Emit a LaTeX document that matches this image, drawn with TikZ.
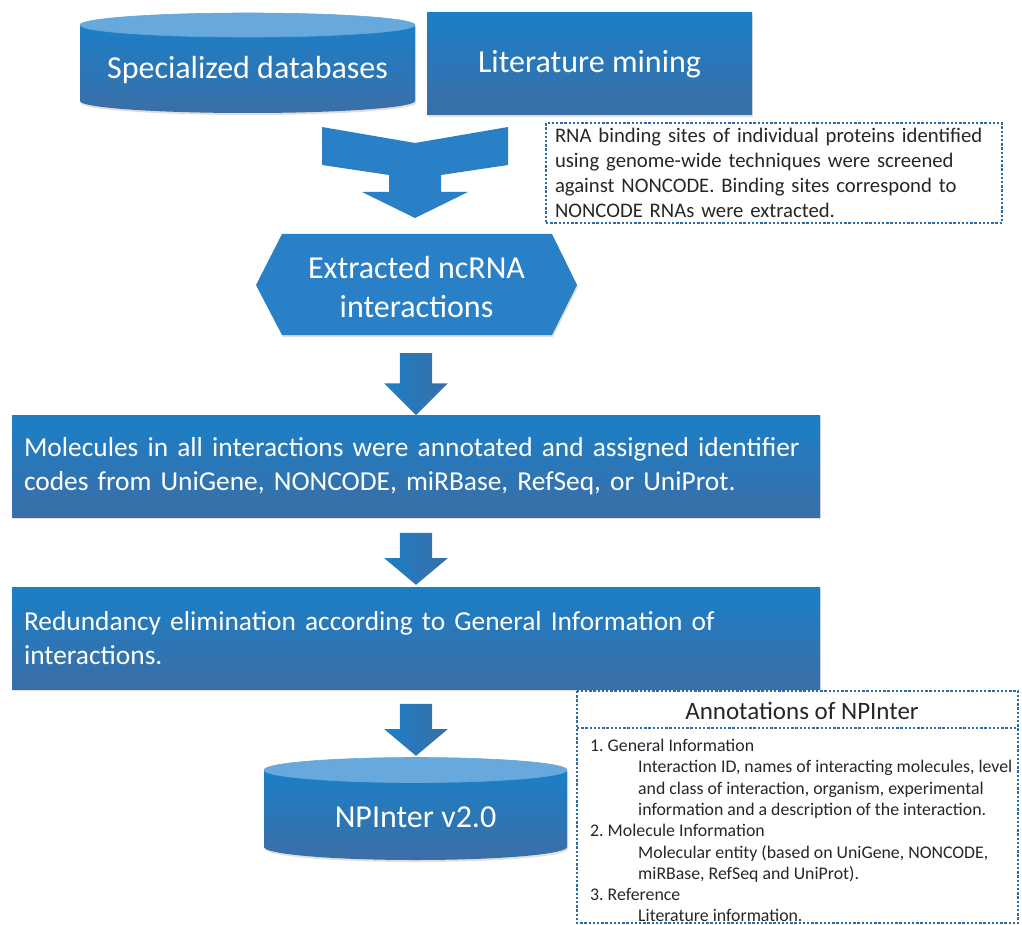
\documentclass[tikz,border=0pt]{standalone}
\usepackage{fontspec}
\setmainfont{Carlito}
\usetikzlibrary{shapes.arrows, shadows, calc}
\definecolor{bluSu}{HTML}{1B7FC7}
\definecolor{bluGiu}{HTML}{3B6EA6}
\definecolor{bluPieno}{HTML}{2A80C6}
\definecolor{bluChiaro}{HTML}{67A9DC}
\definecolor{bluPunti}{HTML}{2D6DA6}
\definecolor{testoScuro}{HTML}{262626}
\tikzset{
  ombra/.style={drop shadow={shadow xshift=1pt, shadow yshift=-2pt, opacity=0.25}},
  blocco/.style={ombra, top color=bluSu, bottom color=bluGiu, text=white, inner sep=0pt},
  corpo/.style={ombra, top color=bluSu, bottom color=bluGiu},
  coperchio/.style={fill=bluChiaro, draw=bluPieno!70, line width=0.6pt},
  testo grande/.style={text=white, font=\fontsize{32}{38}\selectfont},
  testo medio/.style={font=\fontsize{27.4}{34}\selectfont},
  puntini/.style={draw=bluPunti, line width=2.4pt, dash pattern=on 2.4pt off 1.8pt},
  nota/.style={puntini, text=testoScuro, align=left, inner sep=0pt, font=\fontsize{20.7}{25}\selectfont},
  frecciagiu/.style={single arrow, rotate=-90, inner xsep=0pt, inner ysep=16pt,
    single arrow head extend=15.5pt, single arrow head indent=0pt,
    left color=bluSu, right color=bluGiu}
}

\begin{document}
\begin{tikzpicture}[x=1pt, y=-1pt]
    \useasboundingbox (0,0) rectangle (1022,925);
    % Sorgenti
    \shade[corpo] (80,25) -- (80,101) arc[start angle=180, end angle=360, x radius=167.5pt, y radius=12pt] -- (415,25) -- cycle;
    \fill[coperchio] (247.5,25) ellipse[x radius=167.5, y radius=12];
    \node[testo grande] (banche) at (247.5,70) {Specialized databases};
    \node[blocco, testo grande, minimum width=325pt, minimum height=102pt] (lett) at (589.5,64) {Literature mining};
    % Freccia doppia
    \fill[bluPieno] (322,127) -- (415,143) -- (508,127) -- (508,165) -- (441,175) -- (441,192)
      -- (468,192) -- (415,218) -- (362,192) -- (389,192) -- (389,175) -- (322,165) -- cycle;
    % Nota sui siti di legame
    \node[nota, minimum width=456pt, minimum height=100pt, text width=438pt] (nota1) at (774,173)
      {RNA binding sites of individual proteins identified\\using genome-wide techniques were screened\\against NONCODE. Binding sites correspond to\\NONCODE RNAs were extracted.};
    % Esagono
    \fill[bluPieno, ombra] (282,234) -- (552,234) -- (577,285) -- (552,335) -- (282,335) -- (256,285) -- cycle;
    \node[testo grande, align=center, font=\fontsize{32}{39}\selectfont] (estr) at (416.5,287) {Extracted ncRNA\\interactions};
    \node[frecciagiu, minimum height=62pt, single arrow tip angle=90] (f1) at (416,376) {};
    % Annotazione
    \node[blocco, testo medio, minimum width=808pt, minimum height=102pt, text width=784pt, align=left] (mol) at (416,466)
      {Molecules in all interactions were annotated and assigned identifier\\codes from UniGene, NONCODE, miRBase, RefSeq, or UniProt.};
    \node[frecciagiu, minimum height=52pt, single arrow tip angle=100] (f2) at (416,552) {};
    % Ridondanza
    \node[blocco, testo medio, minimum width=808pt, minimum height=102pt, text width=784pt, align=left] (rid) at (416,638)
      {Redundancy elimination according to General Information of\\interactions.};
    \node[frecciagiu, minimum height=52pt, single arrow tip angle=100] (f3) at (416,723) {};
    % Database finale
    \shade[corpo] (264,770) -- (264,847) arc[start angle=180, end angle=360, x radius=151.5pt, y radius=13pt] -- (567,770) -- cycle;
    \fill[coperchio] (415.5,770) ellipse[x radius=151.5, y radius=12.5];
    \node[testo grande] (npinter) at (415.5,817) {NPInter v2.0};
    % Annotazioni di NPInter
    \draw[puntini] (577,691) rectangle (1018,923);
    \draw[puntini] (577,728) -- (1018,728);
    \node[text=testoScuro, font=\fontsize{25}{28}\selectfont] (titolo) at (802,711) {Annotations of NPInter};
    \node[anchor=north west, align=left, inner sep=0pt, text=testoScuro, font=\fontsize{17.8}{21.3}\selectfont\frenchspacing] (voci) at (590,739)
      {1. General Information\\
       \hspace*{48pt}Interaction ID, names of interacting molecules, level\\
       \hspace*{48pt}and class of interaction, organism, experimental\\
       \hspace*{48pt}information and a description of the interaction.\\
       2. Molecule Information\\
       \hspace*{48pt}Molecular entity (based on UniGene, NONCODE,\\
       \hspace*{48pt}miRBase, RefSeq and UniProt).\\
       3. Reference\\
       \hspace*{48pt}Literature information.};
\end{tikzpicture}
\end{document}
